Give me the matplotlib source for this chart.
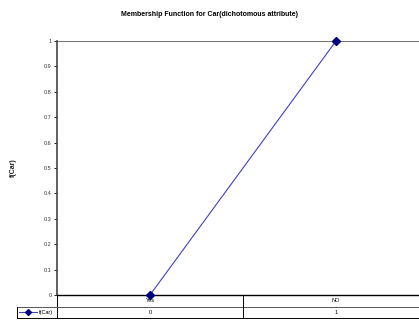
import matplotlib
matplotlib.use("Agg")
import matplotlib.pyplot as plt
from matplotlib.lines import Line2D

categories = ["Yes", "NO"]
values = [0, 1]
series_name = "f(Car)"
yticks = [0, 0.1, 0.2, 0.3, 0.4, 0.5, 0.6, 0.7, 0.8, 0.9, 1]

plt.rcParams["font.family"] = ["Liberation Sans", "DejaVu Sans"]

fig = plt.figure(figsize=(4.19, 3.2), dpi=100)
ax = fig.add_axes([57 / 419, 25 / 320, 372 / 419, 254 / 320])

x = list(range(len(categories)))
ax.plot(x, values, color="#4040c8", lw=0.8, marker="D", ms=4,
        mfc="#000080", mec="#000080", clip_on=False, zorder=5)

ax.set_xlim(-0.5, len(categories) - 0.5)
ax.set_ylim(0, 1)
ax.set_yticks(yticks)
ax.set_yticklabels([f"{t:g}" for t in yticks], fontsize=4, color="#333333")
ax.tick_params(axis="y", length=2.5, width=0.6, pad=1.5)
ax.set_xticks([])

for s in ["top", "right"]:
    ax.spines[s].set_visible(False)
ax.spines["left"].set_linewidth(1.2)
ax.spines["left"].set_color("#444444")
ax.spines["bottom"].set_linewidth(1.0)
ax.spines["bottom"].set_color("black")
ax.axhline(1, color="#777777", lw=0.8, zorder=1)

ax.set_ylabel("f(Car)", fontsize=5, fontweight="bold", labelpad=19, color="#222222")
fig.text(0.5, 1 - 15 / 320, "Membership Function for Car(dichotomous attribute)",
         ha="center", va="center", fontsize=5, fontweight="bold")

# data table below the axis, in axes coordinates
tr = ax.transAxes
rh = 11.5 / 254
legend_left = (17 - 57) / 372
n = len(categories)
kw = dict(transform=tr, clip_on=False, color="black", lw=0.7)
ax.add_line(Line2D([0, 0], [0, -2 * rh], **kw))
ax.add_line(Line2D([legend_left, 1], [-rh, -rh], color="#555555", lw=0.7,
                   transform=tr, clip_on=False))
ax.add_line(Line2D([legend_left, 1], [-2 * rh, -2 * rh], **kw))
ax.add_line(Line2D([legend_left, legend_left], [-rh, -2 * rh], **kw))
for i in range(1, n):
    ax.add_line(Line2D([i / n, i / n], [0, -2 * rh], **kw))
for i, (c, v) in enumerate(zip(categories, values)):
    cx = (i + 0.5) / n
    ax.text(cx, -0.5 * rh, c, transform=tr, ha="center", va="center", fontsize=4)
    ax.text(cx, -1.5 * rh, f"{v:g}", transform=tr, ha="center", va="center", fontsize=4)

# legend key inside the table
ky = -1.5 * rh
ax.add_line(Line2D([legend_left + 0.005, legend_left + 0.055], [ky, ky], color="#4040c8",
                   lw=0.8, transform=tr, clip_on=False))
ax.add_line(Line2D([legend_left + 0.03], [ky], marker="D", ms=3, color="#000080",
                   transform=tr, clip_on=False))
ax.text(legend_left + 0.058, ky, series_name, transform=tr, ha="left", va="center", fontsize=4)

fig.savefig("out.png", dpi=100)
